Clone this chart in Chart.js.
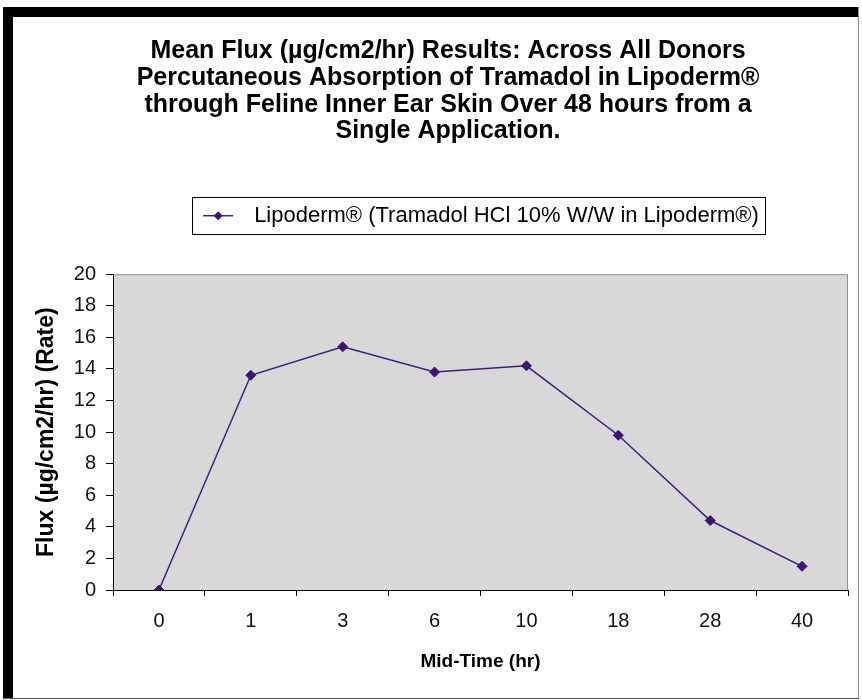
<!DOCTYPE html>
<html><head><meta charset="utf-8">
<script src="https://cdn.jsdelivr.net/npm/chart.js@4"></script>
<style>html,body{margin:0;padding:0;background:#fff;}canvas{display:block;}</style>
</head><body>
<canvas id="c" width="862" height="700"></canvas>
<script>
// ---- data ----
const categories = ['0', '1', '3', '6', '10', '18', '28', '40'];
const fluxValues = [0, 13.6, 15.4, 13.8, 14.2, 9.8, 4.4, 1.5];
const seriesLabel = 'Lipoderm® (Tramadol HCl 10% W/W in Lipoderm®)';
const titleLines = [
  'Mean Flux (µg/cm2/hr) Results: Across All Donors',
  'Percutaneous Absorption of Tramadol in Lipoderm®',
  'through Feline Inner Ear Skin Over 48 hours from a',
  'Single Application.'
];
const xAxisTitle = 'Mid-Time (hr)';
const yAxisTitle = 'Flux (µg/cm2/hr) (Rate)';
const yMin = 0, yMax = 20, yStep = 2;

const FONT = "'Liberation Sans', Arial, sans-serif";
const LINE_COLOR = '#3f1f7a';
const MARK_COLOR = '#3a1670';

const framePlugin = {
  id: 'frame',
  beforeDraw(chart) {
    const ctx = chart.ctx, a = chart.chartArea;
    ctx.save();
    ctx.fillStyle = '#fff';
    ctx.fillRect(0, 0, chart.width, chart.height);
    ctx.fillStyle = '#000';
    ctx.fillRect(3, 7, 856, 10);
    ctx.fillRect(3, 7, 10, 692);
    ctx.fillStyle = '#8a8a8a';
    ctx.fillRect(858, 7, 1, 692);
    ctx.fillStyle = '#555';
    ctx.fillRect(3, 698, 856, 1);
    ctx.fillStyle = '#d8d8d8';
    ctx.fillRect(a.left, a.top, a.right - a.left, a.bottom - a.top);
    ctx.strokeStyle = '#909090';
    ctx.lineWidth = 1;
    ctx.beginPath();
    ctx.moveTo(a.left, a.top + 0.5);
    ctx.lineTo(a.right - 0.5, a.top + 0.5);
    ctx.lineTo(a.right - 0.5, a.bottom);
    ctx.stroke();
    ctx.restore();
  }
};

const legendFramePlugin = {
  id: 'legendFrame',
  afterDraw(chart) {
    const lg = chart.legend;
    if (!lg || !lg.legendHitBoxes || !lg.legendHitBoxes.length) return;
    const hb = lg.legendHitBoxes[0];
    const ctx = chart.ctx;
    const cy = hb.top + hb.height / 2;
    ctx.save();
    ctx.strokeStyle = '#000';
    ctx.lineWidth = 1;
    ctx.strokeRect(Math.round(hb.left - 10) + 0.5, Math.round(cy - 18.5) + 0.5, Math.round(hb.width + 16), 37);
    ctx.strokeStyle = LINE_COLOR;
    ctx.lineWidth = 1.5;
    ctx.beginPath();
    ctx.moveTo(hb.left + 1, cy);
    ctx.lineTo(hb.left + 31, cy);
    ctx.stroke();
    const dx = hb.left + 16, r = 4.5;
    ctx.fillStyle = MARK_COLOR;
    ctx.beginPath();
    ctx.moveTo(dx, cy - r); ctx.lineTo(dx + r, cy); ctx.lineTo(dx, cy + r); ctx.lineTo(dx - r, cy);
    ctx.closePath();
    ctx.fill();
    ctx.restore();
  }
};

new Chart(document.getElementById('c'), {
  type: 'line',
  data: {
    labels: categories,
    datasets: [{
      label: seriesLabel,
      data: fluxValues,
      borderColor: LINE_COLOR,
      borderWidth: 1.5,
      backgroundColor: MARK_COLOR,
      pointStyle: 'rectRot',
      pointRadius: 5,
      pointBorderWidth: 1,
      pointBorderColor: MARK_COLOR,
      pointBackgroundColor: MARK_COLOR,
      tension: 0,
      fill: false
    }]
  },
  options: {
    responsive: false,
    animation: false,
    devicePixelRatio: 1,
    layout: { padding: { left: 48, right: 14, top: 0, bottom: 0 } },
    plugins: {
      tooltip: { enabled: false },
      title: {
        display: true,
        text: titleLines,
        color: '#000',
        font: { family: FONT, size: 25, weight: 'bold', lineHeight: 1.067 },
        padding: { top: 38, bottom: 50 }
      },
      legend: {
        display: true,
        position: 'top',
        fullSize: false,
        labels: {
          color: '#000',
          font: { family: FONT, size: 22 },
          boxWidth: 41,
          boxHeight: 22,
          padding: 10,
          generateLabels(chart) {
            return chart.data.datasets.map((ds, i) => ({
              text: ds.label,
              fillStyle: 'rgba(0,0,0,0)',
              strokeStyle: 'rgba(0,0,0,0)',
              lineWidth: 0,
              datasetIndex: i,
              hidden: false
            }));
          }
        }
      }
    },
    scales: {
      x: {
        type: 'category',
        offset: true,
        grid: { display: true, drawOnChartArea: false, drawTicks: true, tickLength: 6, tickColor: '#000', offset: true },
        border: { display: true, color: '#000', width: 1 },
        ticks: { color: '#111', font: { family: FONT, size: 20 }, padding: 13, maxRotation: 0, autoSkip: false },
        title: { display: true, text: xAxisTitle, color: '#000', font: { family: FONT, size: 19, weight: 'bold', lineHeight: 1.2 }, padding: { top: 0, bottom: 26.6 } },
        afterFit(scale) { scale.height = 110; }
      },
      // invisible spacer between legend and plot area
      xTopSpacer: {
        type: 'category',
        position: 'top',
        display: true,
        grid: { display: false },
        border: { display: false },
        ticks: { display: false },
        afterFit(scale) { scale.height = 37.5; }
      },
      y: {
        min: yMin, max: yMax,
        grid: { display: true, drawOnChartArea: false, drawTicks: true, tickLength: 7, tickColor: '#000' },
        border: { display: true, color: '#000', width: 1 },
        ticks: { stepSize: yStep, color: '#111', font: { family: FONT, size: 20 }, padding: 10 },
        title: { display: true, text: yAxisTitle, color: '#000', font: { family: FONT, size: 23, weight: 'bold', lineHeight: 1.2 }, padding: { top: -15, bottom: 0 } },
        afterFit(scale) { scale.width = 65; }
      }
    }
  },
  plugins: [framePlugin, legendFramePlugin]
});
</script>
</body></html>
